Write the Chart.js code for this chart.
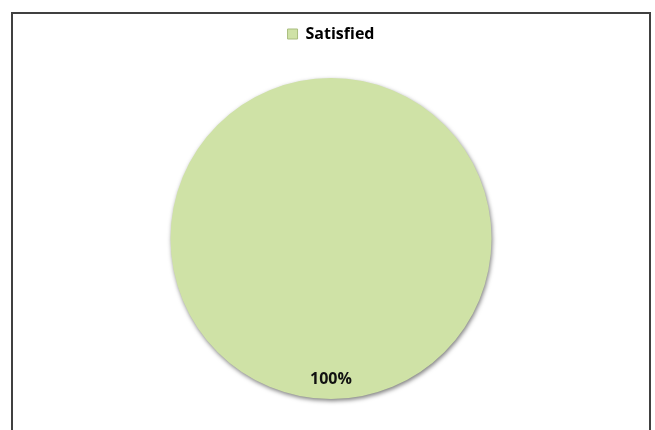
<!DOCTYPE html>
<html>
<head>
<meta charset="utf-8">
<script src="https://cdn.jsdelivr.net/npm/chart.js@4/dist/chart.umd.min.js"></script>
<style>
  html, body { margin: 0; padding: 0; background: #ffffff; width: 655px; height: 430px; overflow: hidden; }
  #frame { position: absolute; left: 11px; top: 12px; width: 636px; height: 440px; border: 2px solid #404040; background: #fff; }
  #wrap { position: absolute; left: 0; top: 0; width: 636px; height: 416px; }
</style>
</head>
<body>
<div id="frame"><div id="wrap"><canvas id="c"></canvas></div></div>
<script>
const categories = ["Satisfied"];
const values = [100];
const percentLabels = ["100%"];
const sliceColors = ["#CFE2A6"];

const legendSpacer = {
  id: 'legendSpacer',
  beforeInit(chart) {
    const origFit = chart.legend.fit;
    chart.legend.fit = function () {
      origFit.bind(chart.legend)();
      this.height += 26;
    };
  }
};

const sliceShadow = {
  id: 'sliceShadow',
  beforeDatasetsDraw(chart) {
    const ctx = chart.ctx;
    ctx.save();
    ctx.shadowColor = 'rgba(0,0,0,0.5)';
    ctx.shadowBlur = 4;
    ctx.shadowOffsetX = 1;
    ctx.shadowOffsetY = 2;
  },
  afterDatasetsDraw(chart) {
    chart.ctx.restore();
  }
};

const pctLabels = {
  id: 'pctLabels',
  afterDatasetsDraw(chart) {
    const ctx = chart.ctx;
    const meta = chart.getDatasetMeta(0);
    meta.data.forEach((arc, i) => {
      const p = arc.getProps(['x', 'y', 'startAngle', 'endAngle', 'outerRadius'], true);
      const mid = (p.startAngle + p.endAngle) / 2;
      const r = p.outerRadius * 0.875;
      const x = p.x + Math.cos(mid) * r;
      const y = p.y + Math.sin(mid) * r;
      ctx.save();
      ctx.font = 'bold 16px "Open Sans", sans-serif';
      ctx.fillStyle = '#111111';
      ctx.textAlign = 'center';
      ctx.textBaseline = 'middle';
      ctx.fillText(percentLabels[i], x, y);
      ctx.restore();
    });
  }
};

new Chart(document.getElementById('c'), {
  type: 'pie',
  data: {
    labels: categories,
    datasets: [{
      data: values,
      backgroundColor: sliceColors,
      borderWidth: 0
    }]
  },
  options: {
    responsive: true,
    maintainAspectRatio: false,
    animation: false,
    layout: { padding: { top: 2, bottom: 31, left: 0, right: 0 } },
    plugins: {
      legend: {
        position: 'top',
        labels: {
          boxWidth: 10,
          boxHeight: 10,
          color: '#111111',
          font: { family: '"Open Sans", sans-serif', size: 16, weight: 'bold' },
          generateLabels(chart) {
            return categories.map((c, i) => ({
              text: c,
              fillStyle: sliceColors[i],
              strokeStyle: '#A9BD7E',
              lineWidth: 1,
              index: i
            }));
          }
        }
      },
      tooltip: { enabled: false }
    }
  },
  plugins: [legendSpacer, sliceShadow, pctLabels]
});
</script>
</body>
</html>
